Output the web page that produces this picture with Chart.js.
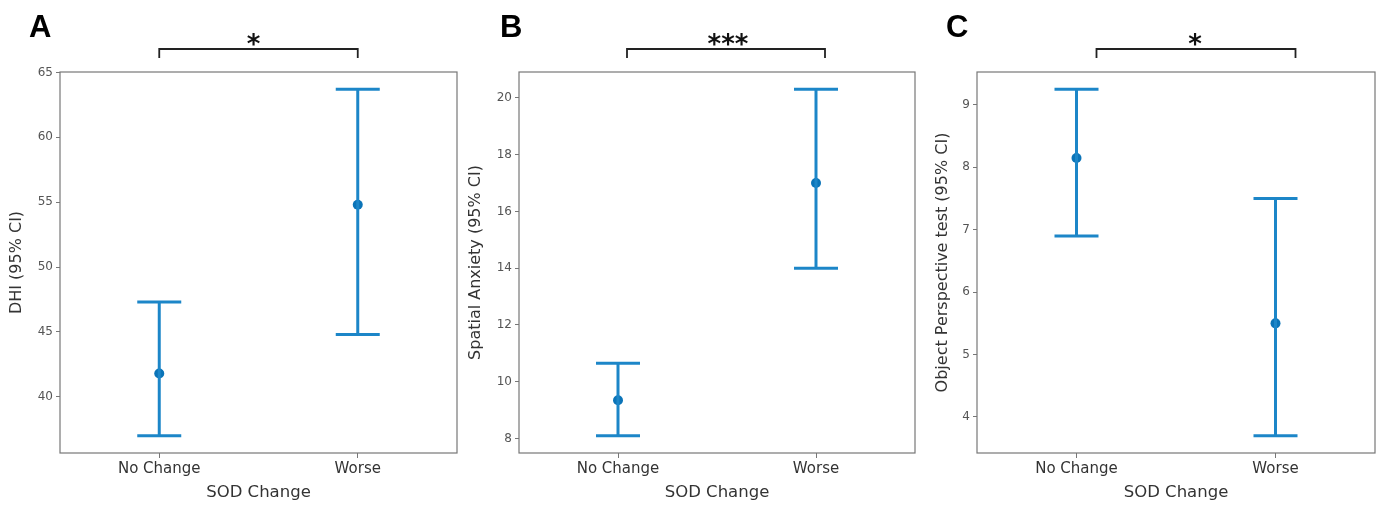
<!DOCTYPE html>
<html>
<head>
<meta charset="utf-8">
<script src="https://cdn.jsdelivr.net/npm/chart.js@4"></script>
<style>
  body { margin: 0; background: #fff; }
  #wrap { position: relative; width: 1382px; height: 509px; }
  .panel { position: absolute; top: 0; height: 509px; }
  .letter { position: absolute; top: 9px; line-height: 36px; font: bold 31px "Liberation Sans", Arial, sans-serif; color: #000; }
</style>
</head>
<body>
<div id="wrap">
  <div class="panel" style="left:0;width:460px"><canvas id="chartA"></canvas></div>
  <div class="panel" style="left:460px;width:460px"><canvas id="chartB"></canvas></div>
  <div class="panel" style="left:920px;width:462px"><canvas id="chartC"></canvas></div>
  <div class="letter" style="left:29px">A</div>
  <div class="letter" style="left:500px">B</div>
  <div class="letter" style="left:946px">C</div>
</div>
<script>
// categories shared by all panels
const categories = ['No Change', 'Worse'];

// A: DHI
const meanA = [41.8, 54.8];
const lowA = [37.0, 44.8];
const highA = [47.3, 63.7];
const ticksA = [40, 45, 50, 55, 60, 65];

// B: Spatial Anxiety
const meanB = [9.35, 17.0];
const lowB = [8.1, 14.0];
const highB = [10.65, 20.3];
const ticksB = [8, 10, 12, 14, 16, 18, 20];

// C: Object Perspective test
const meanC = [8.15, 5.5];
const lowC = [6.9, 3.7];
const highC = [9.25, 7.5];
const ticksC = [4, 5, 6, 7, 8, 9];

const blue = '#1c86c8';
const dotBlue = '#0b74b8';
const font = "'DejaVu Sans', sans-serif";

// frame round the plot + significance bracket on top
const framePlugin = {
    id: 'frame',
    afterDraw(chart, args, opts) {
        const ctx = chart.ctx;
        const a = chart.chartArea;
        const x = chart.scales.x;
        ctx.save();
        ctx.strokeStyle = '#777';
        ctx.lineWidth = 1.2;
        ctx.strokeRect(a.left, a.top, a.right - a.left, a.bottom - a.top);

        // the bracket sits a bit off the categories in the original
        const x0 = x.getPixelForValue(0) + opts.shift;
        const x1 = x.getPixelForValue(1) + opts.shift;
        ctx.strokeStyle = '#222';
        ctx.lineWidth = 1.8;
        ctx.beginPath();
        ctx.moveTo(x0, 58);
        ctx.lineTo(x0, 49);
        ctx.lineTo(x1, 49);
        ctx.lineTo(x1, 58);
        ctx.stroke();

        ctx.fillStyle = '#111';
        ctx.font = 'bold 26px ' + font;
        ctx.textAlign = 'center';
        ctx.textBaseline = 'alphabetic';
        ctx.fillText(opts.stars, (x0 + x1) / 2 + opts.starShift, 53);
        ctx.restore();
    }
};

function makeChart(id, mean, low, high, yTicks, yTitle, axisWidth, rightPad, titlePad, stars, shift, starShift) {
    const span = Math.max(...high) - Math.min(...low);
    const yMin = Math.min(...low) - span * 0.05;
    const yMax = Math.max(...high) + span * 0.05;

    const datasets = categories.map((c, i) => ({
        type: 'line',
        data: [{ x: i, y: low[i] }, { x: i, y: high[i] }],
        borderColor: blue,
        borderWidth: 3,
        pointStyle: 'line',
        pointRadius: 22,
        pointBorderWidth: 3,
        pointBorderColor: blue,
        pointHoverRadius: 22
    }));
    datasets.push({
        type: 'scatter',
        data: mean.map((m, i) => ({ x: i, y: m })),
        pointRadius: 5,
        pointBackgroundColor: dotBlue,
        pointBorderColor: dotBlue,
        pointBorderWidth: 0
    });

    return new Chart(document.getElementById(id), {
        type: 'scatter',
        data: { datasets },
        options: {
            responsive: true,
            maintainAspectRatio: false,
            animation: false,
            layout: { autoPadding: false, padding: { top: 72, right: rightPad, left: 0, bottom: 6 } },
            plugins: {
                legend: { display: false },
                tooltip: { enabled: false },
                frame: { stars, shift, starShift }
            },
            scales: {
                x: {
                    type: 'linear',
                    min: -0.5,
                    max: 1.5,
                    afterBuildTicks: s => { s.ticks = categories.map((c, i) => ({ value: i })); },
                    afterFit: s => { s.height = 50; },
                    grid: { display: true, drawOnChartArea: false, drawTicks: true, tickLength: 5, color: '#777' },
                    border: { display: false },
                    ticks: {
                        color: '#333',
                        font: { family: font, size: 15 },
                        padding: 2,
                        maxRotation: 0,
                        callback: v => categories[v]
                    },
                    title: {
                        display: true,
                        text: 'SOD Change',
                        color: '#333',
                        font: { family: font, size: 16.5 },
                        padding: { top: 0, bottom: 0 }
                    }
                },
                y: {
                    min: yMin,
                    max: yMax,
                    afterBuildTicks: s => { s.ticks = yTicks.map(v => ({ value: v })); },
                    afterFit: s => { s.width = axisWidth; },
                    grid: { display: true, drawOnChartArea: false, drawTicks: true, tickLength: 4, color: '#777' },
                    border: { display: false },
                    ticks: {
                        color: '#555',
                        font: { family: font, size: 12 },
                        padding: 3
                    },
                    title: {
                        display: true,
                        text: yTitle,
                        color: '#333',
                        font: { family: font, size: 16 },
                        padding: { top: titlePad, bottom: 0 }
                    }
                }
            }
        },
        plugins: [framePlugin]
    });
}

makeChart('chartA', meanA, lowA, highA, ticksA, 'DHI (95% CI)', 60, 3, 7, '*', 0, -5);
makeChart('chartB', meanB, lowB, highB, ticksB, 'Spatial Anxiety (95% CI)', 59, 5, 6, '***', 9, 2);
makeChart('chartC', meanC, lowC, highC, ticksC, 'Object Perspective test (95% CI)', 57, 7, 13, '*', 20, -1);
</script>
</body>
</html>
